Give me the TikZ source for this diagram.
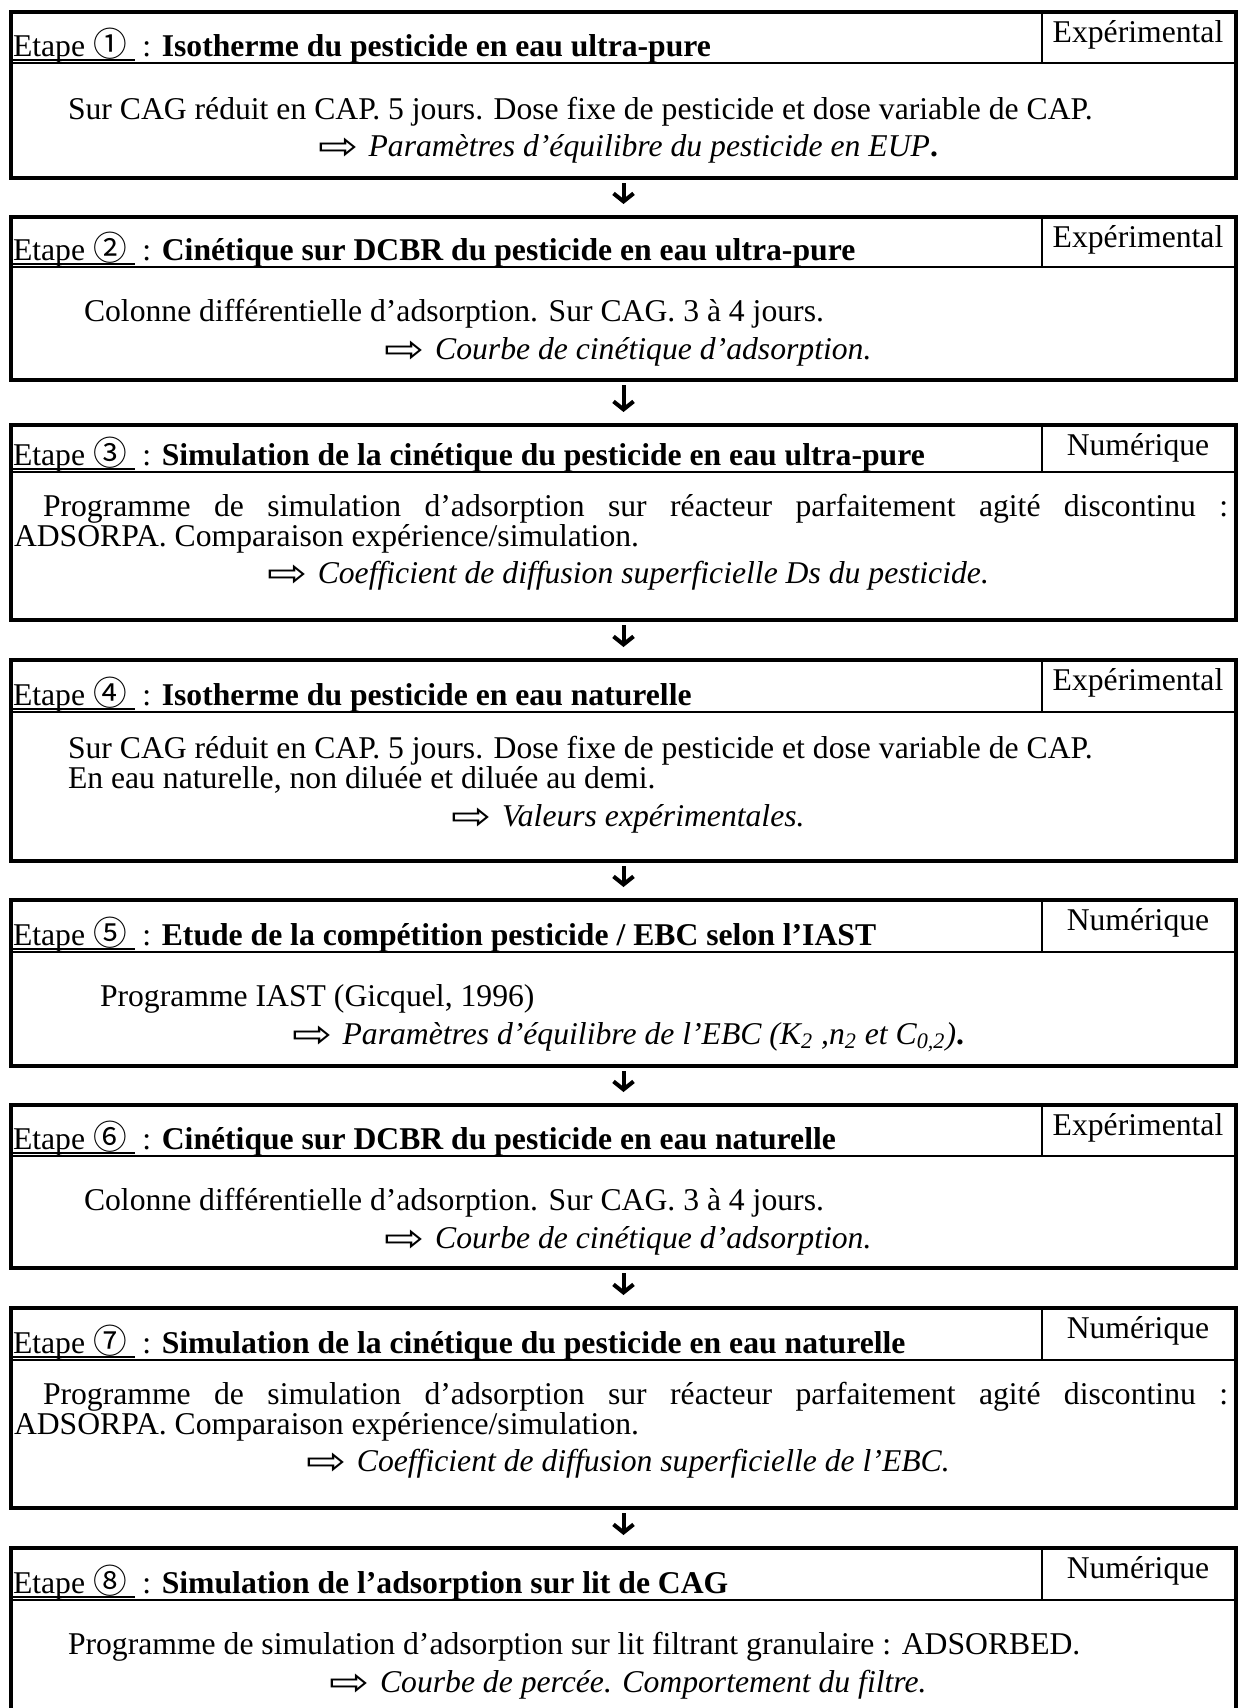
\documentclass[tikz,border=0pt]{standalone}
\usepackage{fontspec}
\usepackage{graphicx}
\setmainfont{Liberation Serif}
\newfontfamily\symfnt{DejaVu Sans}
\newfontfamily\cjkfnt{Noto Sans CJK JP}
\usetikzlibrary{arrows.meta}
\newsavebox\ulbox
\newcommand\myuline[1]{\sbox\ulbox{#1}\rlap{\rule[-2.3pt]{\wd\ulbox}{0.95pt}}\usebox\ulbox}
\newcommand\cnum[1]{\scalebox{1.7}{\cjkfnt\fontsize{9.5}{11}\selectfont #1}}
\newcommand\resarr{\raisebox{-1.5pt}{\scalebox{2}[1.6]{\symfnt\fontsize{11.5}{13}\selectfont ⇨}}\hspace{5pt}}
\tikzset{
  every node/.style={inner sep=0pt, outer sep=0pt},
  frame/.style={draw, line width=1.92pt, minimum width=588pt, anchor=north},
  hsep/.style={line width=1.25pt},
  tsep/.style={line width=0.96pt},
  txt/.style={anchor=base west, font=\fontsize{15.2}{17}\selectfont},
  ctxt/.style={anchor=base, font=\fontsize{15.2}{17}\selectfont},
  tagtxt/.style={anchor=base, font=\fontsize{15.2}{17}\selectfont},
  flow/.style={line width=1.92pt, -{Straight Barb[length=3.84pt,width=9.6pt]}, shorten <=2.4pt, shorten >=6.24pt},
}
\newcommand\etape[6]{%
  \node[frame, minimum height={(#4-#2)*0.48pt}] (#1) at (623.5,#2) {};
  \draw[hsep] (11,#3) -- (1236,#3);
  \draw[tsep] (1042,#2) -- (1042,#3);
  \node[tagtxt] (#1tag) at (1138,#2+30) {#5};
  \node[txt] (#1head) at (13,#3-6.5) {#6};
}
\newcommand\hd[2]{\myuline{Etape \cnum{#1}\ }\ : \textbf{#2}}
\begin{document}
\begin{tikzpicture}[x=0.48pt,y=-0.48pt]
\useasboundingbox (0,0) rectangle (1241,1708);
\clip (0,0) rectangle (1241,1708);

% Box 1
\etape{b1}{12}{63}{178}{Expérimental}{\hd{①}{Isotherme du pesticide en eau ultra-pure}}
\node[txt] (b1a) at (68,119) {Sur CAG réduit en CAP. 5 jours. Dose fixe de pesticide et dose variable de CAP.};
\node[ctxt] (b1r) at (628,156) {\resarr\textit{Paramètres d’équilibre du pesticide en EUP}\textbf{.}};

% Box 2
\etape{b2}{217}{267}{380}{Expérimental}{\hd{②}{Cinétique sur DCBR du pesticide en eau ultra-pure}}
\node[txt] (b2a) at (84,321) {Colonne différentielle d’adsorption. Sur CAG. 3 à 4 jours.};
\node[ctxt] (b2r) at (628,359) {\resarr\textit{Courbe de cinétique d’adsorption.}};

% Box 3
\etape{b3}{425}{472}{620}{Numérique}{\hd{③}{Simulation de la cinétique du pesticide en eau ultra-pure}}
\node[txt] (b3a) at (43,516) {\makebox[568.8pt][s]{Programme de simulation d’adsorption sur réacteur parfaitement agité discontinu :}};
\node[txt] (b3b) at (14,546) {ADSORPA. Comparaison expérience/simulation.};
\node[ctxt] (b3r) at (628,583) {\resarr\textit{Coefficient de diffusion superficielle Ds du pesticide.}};

% Box 4
\etape{b4}{660}{712}{861}{Expérimental}{\hd{④}{Isotherme du pesticide en eau naturelle}}
\node[txt] (b4a) at (68,758) {Sur CAG réduit en CAP. 5 jours. Dose fixe de pesticide et dose variable de CAP.};
\node[txt] (b4b) at (68,788) {En eau naturelle, non diluée et diluée au demi.};
\node[ctxt] (b4r) at (628,826) {\resarr\textit{Valeurs expérimentales.}};

% Box 5
\etape{b5}{900}{952}{1066}{Numérique}{\hd{⑤}{Etude de la compétition pesticide / EBC selon l’IAST}}
\node[txt] (b5a) at (100,1006) {Programme IAST (Gicquel, 1996)};
\node[ctxt] (b5r) at (628,1044) {\resarr\textit{Paramètres d’équilibre de l’EBC (K\textsubscript{2} ,n\textsubscript{2} et C\textsubscript{0,2})}\textbf{.}};

% Box 6
\etape{b6}{1105}{1156}{1268}{Expérimental}{\hd{⑥}{Cinétique sur DCBR du pesticide en eau naturelle}}
\node[txt] (b6a) at (84,1210) {Colonne différentielle d’adsorption. Sur CAG. 3 à 4 jours.};
\node[ctxt] (b6r) at (628,1248) {\resarr\textit{Courbe de cinétique d’adsorption.}};

% Box 7
\etape{b7}{1308}{1360}{1508}{Numérique}{\hd{⑦}{Simulation de la cinétique du pesticide en eau naturelle}}
\node[txt] (b7a) at (43,1404) {\makebox[568.8pt][s]{Programme de simulation d’adsorption sur réacteur parfaitement agité discontinu :}};
\node[txt] (b7b) at (14,1434) {ADSORPA. Comparaison expérience/simulation.};
\node[ctxt] (b7r) at (628,1471) {\resarr\textit{Coefficient de diffusion superficielle de l’EBC.}};

% Box 8
\etape{b8}{1548}{1600}{1740}{Numérique}{\hd{⑧}{Simulation de l’adsorption sur lit de CAG}}
\node[txt] (b8a) at (68,1654) {Programme de simulation d’adsorption sur lit filtrant granulaire : ADSORBED.};
\node[ctxt] (b8r) at (628,1692) {\resarr\textit{Courbe de percée. Comportement du filtre.}};

% Arrows
\draw[flow] (b1.south) -- (b2.north);
\draw[flow] (b2.south) -- (b3.north);
\draw[flow] (b3.south) -- (b4.north);
\draw[flow] (b4.south) -- (b5.north);
\draw[flow] (b5.south) -- (b6.north);
\draw[flow] (b6.south) -- (b7.north);
\draw[flow] (b7.south) -- (b8.north);
\end{tikzpicture}
\end{document}
